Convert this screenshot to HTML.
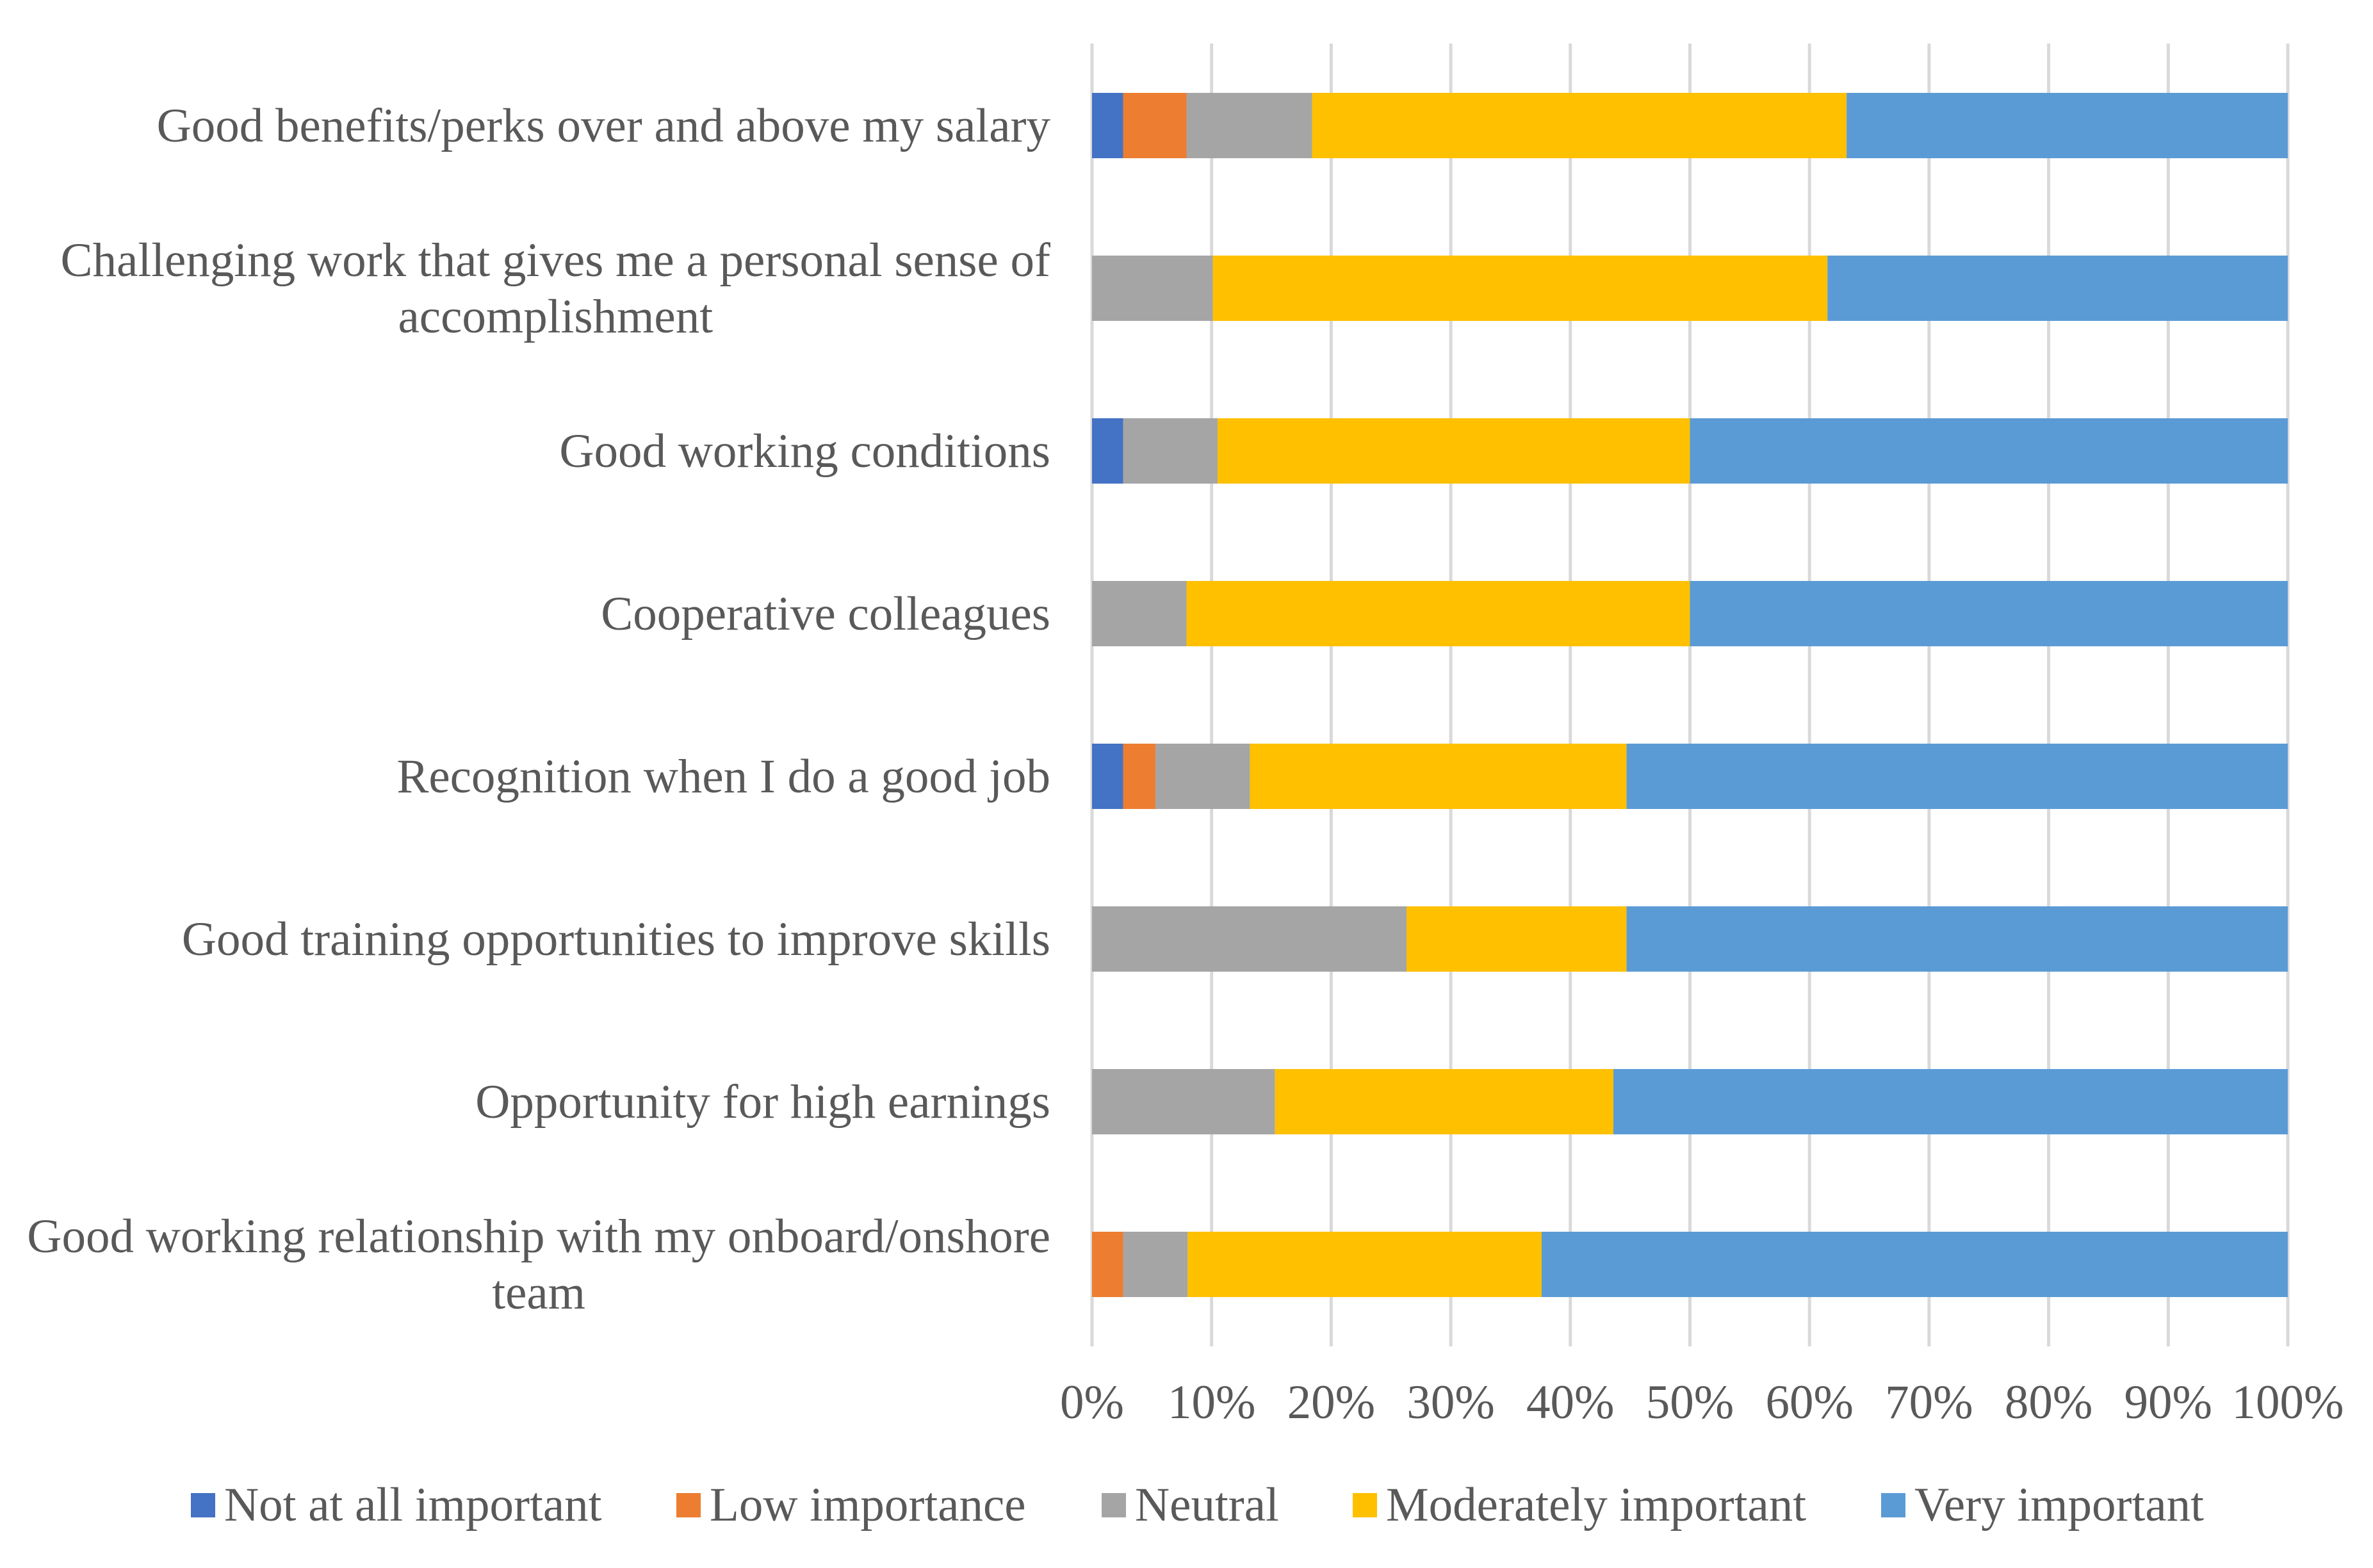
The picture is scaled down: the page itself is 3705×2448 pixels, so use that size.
<!DOCTYPE html>
<html><head><meta charset="utf-8"><style>
html,body{margin:0;padding:0;background:#fff;}
svg{display:block;font-family:"Liberation Serif","Times New Roman",serif;}
</style></head><body>
<svg id="chart" width="3705" height="2448" viewBox="0 0 3705 2448" xmlns="http://www.w3.org/2000/svg">
<rect width="3705" height="2448" fill="#fff"/>
<g id="grid"></g>
<g id="bars"></g>
<g id="cats"></g>
<g id="ticks"></g>
<g id="legend"></g>
</svg>
<script>
const categories = [
  ["Good benefits/perks over and above my salary"],
  ["Challenging work that gives me a personal sense of","accomplishment"],
  ["Good working conditions"],
  ["Cooperative colleagues"],
  ["Recognition when I do a good job"],
  ["Good training opportunities to improve skills"],
  ["Opportunity for high earnings"],
  ["Good working relationship with my onboard/onshore","team"]
];
const seriesNames = ["Not at all important","Low importance","Neutral","Moderately important","Very important"];
const notAtAll = [2.6, 0, 2.6, 0, 2.6, 0, 0, 0];
const lowImp   = [5.3, 0, 0, 0, 2.7, 0, 0, 2.6];
const neutral  = [10.5, 10.1, 7.9, 7.9, 7.9, 26.3, 15.3, 5.4];
const moderate = [44.7, 51.4, 39.5, 42.1, 31.5, 18.4, 28.3, 29.6];
const veryImp  = [36.9, 38.5, 50.0, 50.0, 55.3, 55.3, 56.4, 62.4];
const tickValues = [0,10,20,30,40,50,60,70,80,90,100];
const tickLabels = ["0%","10%","20%","30%","40%","50%","60%","70%","80%","90%","100%"];
const colors = ["#4472c4","#ed7d31","#a5a5a5","#ffc000","#5b9bd5"];

const NS="http://www.w3.org/2000/svg";
const X0=1705, X1=3572, ROW0=196, STEP=254, BH=102, GTOP=68, GBOT=2102, FS=75;
const xScale=v=>X0+(X1-X0)*v/100;
const yScale=i=>ROW0+STEP*i;
function mk(tag,attrs,parent){const e=document.createElementNS(NS,tag);for(const k in attrs)e.setAttribute(k,attrs[k]);parent.appendChild(e);return e;}
const grid=document.getElementById('grid'),bars=document.getElementById('bars'),cats=document.getElementById('cats'),ticks=document.getElementById('ticks'),legend=document.getElementById('legend');

tickValues.forEach((v,i)=>{
  const l=mk('line',{x1:xScale(v),x2:xScale(v),y1:GTOP,y2:GBOT,stroke:'#d9d9d9','stroke-width':5},grid);
  
  
  const t=mk('text',{x:xScale(v),y:2214,'text-anchor':'middle','font-size':FS,fill:'#595959'},ticks);
  t.textContent=tickLabels[i];
  
  
});

const series=[notAtAll,lowImp,neutral,moderate,veryImp];
categories.forEach((c,i)=>{
  let acc=0;
  const cy=yScale(i);
  series.forEach((s,k)=>{
    const v=s[i];
    if(v>0){
      const r=mk('rect',{x:xScale(acc),y:cy-BH/2,width:xScale(acc+v)-xScale(acc),height:BH,fill:colors[k]},bars);
      
      
    }
    acc+=v;
  });
  const t=mk('text',{x:1640,'text-anchor':'end','font-size':FS,fill:'#595959'},cats);
  
  
  if(c.length===1){t.setAttribute('y',cy+25);t.textContent=c[0];}
  else{
    t.setAttribute('text-anchor','middle');
    const t1=mk('tspan',{x:1640,y:cy-19},t);t1.textContent=c[0];
    const t2=mk('tspan',{y:cy+69},t);t2.textContent=c[1];
  }
});
cats.querySelectorAll('text').forEach(t=>{
  const sp=t.querySelectorAll('tspan');
  if(sp.length===2){
    const w=sp[0].getComputedTextLength();
    const cx=1640-w/2;
    sp[0].setAttribute('x',cx);sp[1].setAttribute('x',cx);
  }
});

const lsx=[298,1056,1720,2112,2937];
seriesNames.forEach((n,k)=>{
  const r=mk('rect',{x:lsx[k],y:2331,width:38,height:38,fill:colors[k]},legend);
  
  
  const t=mk('text',{x:lsx[k]+52,y:2374,'font-size':FS,fill:'#595959'},legend);
  t.textContent=n;
  
  
});
</script>
</body></html>
